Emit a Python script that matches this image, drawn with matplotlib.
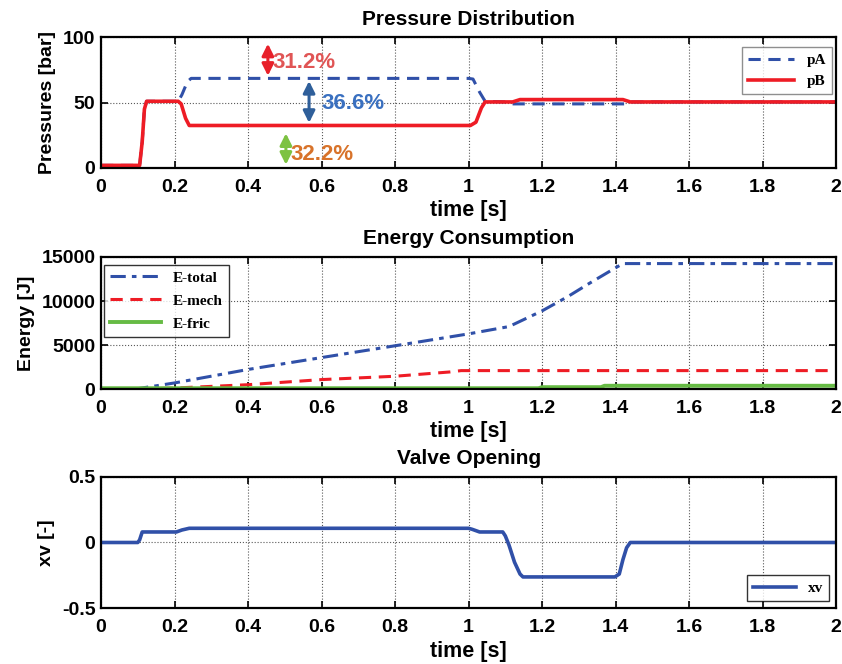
#!/usr/bin/env python3
import matplotlib
matplotlib.use("Agg")
import matplotlib.pyplot as plt

# --- data ---
t_p = [0, 0.105, 0.112, 0.118, 0.124, 0.2, 0.21, 0.22, 0.235, 0.245, 1.0, 1.012, 1.03, 1.045, 1.1, 1.115, 1.43, 1.44, 2.0]
pA = [2, 2, 20, 45, 51, 51, 51, 56, 66, 68.5, 68.5, 68, 58, 51, 50.5, 49, 49, 50.5, 50.5]
t_pb = [0, 0.105, 0.112, 0.118, 0.124, 0.21, 0.218, 0.23, 0.24, 1.005, 1.02, 1.035, 1.045, 1.12, 1.14, 1.42, 1.44, 2.0]
pB = [2, 2, 20, 45, 51, 51, 49, 38, 32.5, 32.5, 35, 46, 50.5, 50.5, 52.3, 52.3, 50.5, 50.5]

t_e = [0, 0.1, 0.2, 0.4, 0.6, 0.8, 1.0, 1.11, 1.2, 1.27, 1.33, 1.4, 1.42, 2.0]
e_total = [0, 50, 700, 2230, 3580, 4920, 6270, 7100, 8880, 10500, 12040, 13770, 14250, 14250]
t_m = [0, 0.1, 0.2, 0.4, 0.6, 0.8, 0.95, 0.98, 2.0]
e_mech = [0, 0, 120, 500, 1080, 1460, 1950, 2100, 2100]
t_f = [0, 1.19, 1.2, 1.36, 1.37, 2.0]
e_fric = [100, 100, 220, 220, 380, 380]

t_v = [0, 0.1, 0.105, 0.112, 0.205, 0.22, 0.24, 1.0, 1.01, 1.03, 1.093, 1.1, 1.11, 1.125, 1.14, 1.148, 1.398, 1.41, 1.42, 1.43, 1.44, 2.0]
xv = [0, 0, 0.02, 0.08, 0.08, 0.095, 0.108, 0.108, 0.1, 0.08, 0.08, 0.05, -0.02, -0.15, -0.24, -0.262, -0.262, -0.24, -0.13, -0.04, 0, 0]

BLUE = '#3050a8'
RED = '#ee1c25'
GREEN = '#66bb44'

plt.rcParams['font.family'] = 'Liberation Sans'
plt.rcParams['font.weight'] = 'bold'

fig = plt.figure(figsize=(8.42, 6.64), dpi=100)
ax1 = fig.add_axes([0.120, 0.747, 0.873, 0.197])
ax2 = fig.add_axes([0.120, 0.414, 0.873, 0.199])
ax3 = fig.add_axes([0.120, 0.084, 0.873, 0.198])

legfont = dict(family='Liberation Serif', weight='bold', size=11)


def style(ax, title, ylabel):
    ax.set_xlim(0, 2)
    ax.set_xticks([0, 0.2, 0.4, 0.6, 0.8, 1, 1.2, 1.4, 1.6, 1.8, 2])
    ax.set_xticklabels(['0', '0.2', '0.4', '0.6', '0.8', '1', '1.2', '1.4', '1.6', '1.8', '2'])
    ax.grid(True, color='0.35', linestyle=':', linewidth=0.8)
    ax.tick_params(direction='in', top=True, right=True, labelsize=14, width=1.2, length=5)
    ax.tick_params(axis='x', pad=8)
    ax.tick_params(axis='y', pad=4)
    for s in ax.spines.values():
        s.set_linewidth(1.6)
    ax.set_title(title, fontsize=15, fontweight='bold', pad=9)
    ax.set_ylabel(ylabel, fontsize=14, fontweight='bold', labelpad=5)
    ax.set_xlabel('time [s]', fontsize=15.5, fontweight='bold', labelpad=3)


def vert_arrow(ax, x, y0, y1, color):
    ax.annotate('', xy=(x, y0), xytext=(x, y1),
                arrowprops=dict(arrowstyle='<|-|>,head_width=0.35,head_length=0.7',
                                color=color, lw=2.2, mutation_scale=10,
                                shrinkA=0, shrinkB=0))


# Pressure
ax1.plot(t_p, pA, '--', color=BLUE, lw=2.2, label='pA', dashes=(4, 2.5))
ax1.plot(t_pb, pB, '-', color=RED, lw=2.6, label='pB')
ax1.set_ylim(0, 100)
ax1.set_yticks([0, 50, 100])
style(ax1, 'Pressure Distribution', 'Pressures [bar]')
ax1.legend(loc='upper right', bbox_to_anchor=(0.9946, 0.924), borderaxespad=0,
           prop=legfont, fancybox=False, edgecolor='0.45',
           handlelength=3.0, labelspacing=0.5)

vert_arrow(ax1, 0.454, 70.5, 95, '#e8202a')
ax1.text(0.465, 81, '31.2%', color='#e05555', fontsize=16, fontweight='bold', va='center')
vert_arrow(ax1, 0.566, 34.5, 66.5, '#2f5f9a')
ax1.text(0.6, 49.5, '36.6%', color='#3a70c0', fontsize=16, fontweight='bold', va='center')
vert_arrow(ax1, 0.503, 2.5, 26.5, '#7dc242')
ax1.text(0.515, 10, '32.2%', color='#d8732a', fontsize=16, fontweight='bold', va='center')

# Energy
ax2.plot(t_e, e_total, '-.', color=BLUE, lw=2.2, label='E-total', dashes=(5, 2, 1.5, 2))
ax2.plot(t_m, e_mech, '--', color=RED, lw=2.2, label='E-mech', dashes=(4, 2.5))
ax2.plot(t_f, e_fric, '-', color=GREEN, lw=2.8, label='E-fric')
ax2.set_ylim(0, 15000)
ax2.set_yticks([0, 5000, 10000, 15000])
style(ax2, 'Energy Consumption', 'Energy [J]')
ax2.legend(loc='upper left', bbox_to_anchor=(0.004, 0.939), borderaxespad=0,
           prop=legfont, fancybox=False, edgecolor='black',
           handlelength=3.3, labelspacing=0.6)

# Valve
ax3.plot(t_v, xv, '-', color=BLUE, lw=2.6, label='xv')
ax3.set_ylim(-0.5, 0.5)
ax3.set_yticks([-0.5, 0, 0.5])
ax3.set_yticklabels(['-0.5', '0', '0.5'])
style(ax3, 'Valve Opening', 'xv [-]')
ax3.legend(loc='lower right', bbox_to_anchor=(0.9905, 0.053), borderaxespad=0,
           prop=legfont, fancybox=False, edgecolor='black', handlelength=2.8)

fig.savefig('out.png', dpi=100)
plt.close(fig)
